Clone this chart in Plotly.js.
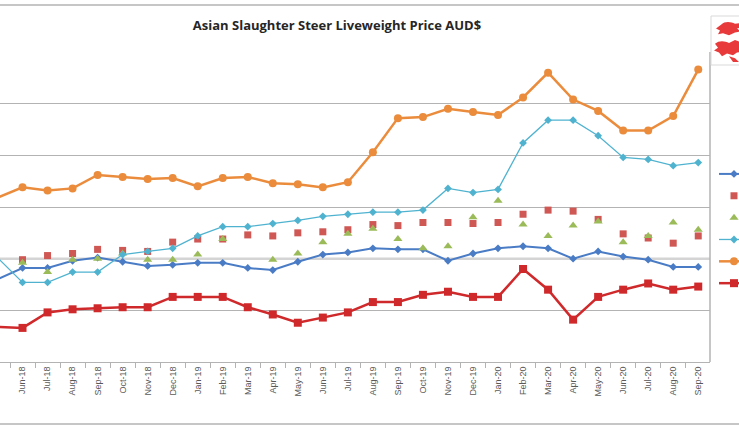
<!DOCTYPE html>
<html>
<head>
<meta charset="utf-8">
<script src="https://cdn.plot.ly/plotly-3.0.1.min.js"></script>
<style>
  html, body { margin: 0; padding: 0; background: #ffffff; }
  #chart { width: 739px; height: 430px; }
</style>
</head>
<body>
<div id="chart"></div>
<script>
// Monthly categories, May 2018 to September 2020
const months = ["May-18","Jun-18","Jul-18","Aug-18","Sep-18","Oct-18","Nov-18","Dec-18",
  "Jan-19","Feb-19","Mar-19","Apr-19","May-19","Jun-19","Jul-19","Aug-19","Sep-19","Oct-19","Nov-19","Dec-19",
  "Jan-20","Feb-20","Mar-20","Apr-20","May-20","Jun-20","Jul-20","Aug-20","Sep-20"];

// Prices, AUD$/kg liveweight, one array per market
const marketA = [2.80,2.91,2.91,2.98,3.01,2.97,2.93,2.94,2.96,2.96,2.91,2.89,2.97,3.04,3.06,3.10,3.09,3.09,2.98,3.05,3.10,3.12,3.10,3.00,3.07,3.02,2.99,2.92,2.92];
const marketB = [2.99,2.99,3.03,3.05,3.09,3.08,3.07,3.16,3.19,3.19,3.23,3.22,3.25,3.26,3.28,3.33,3.32,3.35,3.35,3.34,3.35,3.43,3.47,3.46,3.38,3.24,3.20,3.15,3.22];
const marketC = [null,2.96,2.87,2.99,3.00,3.05,2.99,2.99,3.04,3.19,null,2.99,3.05,3.16,3.24,3.29,3.19,3.10,3.12,3.40,3.56,3.33,3.22,3.32,3.36,3.16,3.22,3.35,3.28];
const marketD = [3.01,2.77,2.77,2.87,2.87,3.04,3.07,3.10,3.22,3.31,3.31,3.34,3.37,3.41,3.43,3.45,3.45,3.47,3.68,3.64,3.67,4.12,4.34,4.34,4.19,3.98,3.96,3.90,3.93];
const marketE = [3.59,3.69,3.66,3.68,3.81,3.79,3.77,3.78,3.70,3.78,3.79,3.73,3.72,3.69,3.74,4.03,4.36,4.37,4.45,4.42,4.39,4.56,4.80,4.54,4.43,4.24,4.24,4.38,4.83];
const marketF = [2.34,2.33,2.48,2.51,2.52,2.53,2.53,2.63,2.63,2.63,2.53,2.46,2.38,2.43,2.48,2.58,2.58,2.65,2.68,2.63,2.63,2.90,2.70,2.41,2.63,2.70,2.76,2.70,2.73];

// Legend keys only (the labels sit beyond the right edge of the frame)
const traces = [
  { name: "", x: months, y: marketA, type: "scatter", mode: "lines+markers",
    line: { color: "#4A7CC6", width: 2 }, marker: { symbol: "diamond", size: 6, color: "#4A7CC6" }, cliponaxis: false },
  { name: "", x: months, y: marketB, type: "scatter", mode: "markers",
    marker: { symbol: "square", size: 7, color: "#CF5754" }, cliponaxis: false },
  { name: "", x: months, y: marketC, type: "scatter", mode: "markers",
    marker: { symbol: "triangle-up", size: 8, color: "#9BBB59" }, cliponaxis: false },
  { name: "", x: months, y: marketD, type: "scatter", mode: "lines+markers",
    line: { color: "#4FB3D0", width: 1.3 }, marker: { symbol: "diamond", size: 6, color: "#4FB3D0" }, cliponaxis: false },
  { name: "", x: months, y: marketE, type: "scatter", mode: "lines+markers",
    line: { color: "#EB8C3C", width: 2.5 }, marker: { symbol: "circle", size: 8, color: "#EB8C3C" }, cliponaxis: false },
  { name: "", x: months, y: marketF, type: "scatter", mode: "lines+markers",
    line: { color: "#D0292B", width: 2.5 }, marker: { symbol: "square", size: 8, color: "#D0292B" }, cliponaxis: false }
];

// Small red emblem in the top-right corner
const emblem = 'data:image/svg+xml;utf8,' + encodeURIComponent(
  '<svg xmlns="http://www.w3.org/2000/svg" width="30" height="46" viewBox="0 0 30 46">' +
  '<g fill="#E83A3A">' +
  '<path d="M8 6 C12 2 18 3 22 5 L28 4 L30 8 L24 10 L28 13 L22 14 L16 17 L10 15 L5 16 L7 12 L3 10 Z"/>' +
  '<path d="M2 26 C6 22 12 23 16 25 L22 22 L27 24 L30 28 L26 30 L30 34 L24 35 L20 38 L14 36 L9 39 L6 35 L1 33 L5 30 Z"/>' +
  '<path d="M16 39 L22 41 L26 45 L20 45 Z"/>' +
  '</g></svg>');

const layout = {
  width: 739, height: 430,
  margin: { l: 0, r: 29, t: 52, b: 68, pad: 0, autoexpand: false },
  paper_bgcolor: "#ffffff", plot_bgcolor: "#ffffff",
  font: { family: "Liberation Sans, Arial, sans-serif", size: 9, color: "#595959" },
  title: {
    text: "Asian Slaughter Steer Liveweight Price AUD$",
    font: { family: "Open Sans, Liberation Sans, sans-serif", size: 13, color: "#262626", weight: "bold" },
    xref: "container", yref: "container", x: 337 / 739, y: 1 - 25 / 430, xanchor: "center", yanchor: "middle"
  },
  xaxis: {
    type: "category", range: [0.1, 28.47], autorange: false,
    showgrid: false, zeroline: false,
    showline: true, linecolor: "#b3b3b3", linewidth: 1,
    ticks: "outside", tickson: "boundaries", ticklen: 5, tickcolor: "#b3b3b3",
    tickangle: -90, tickfont: { size: 9, color: "#595959" }, automargin: false
  },
  yaxis: {
    range: [2, 5], autorange: false,
    tickmode: "array", tickvals: [2.5, 3.5, 4.0, 4.5, 5.0],
    showticklabels: false, ticks: "",
    showgrid: true, gridcolor: "#b3b3b3", gridwidth: 1,
    zeroline: false, showline: false, automargin: false
  },
  showlegend: true,
  legend: {
    xref: "container", yref: "container",
    x: 714 / 739, xanchor: "left", y: 1 - 158 / 430, yanchor: "top",
    orientation: "v", bgcolor: "rgba(0,0,0,0)", borderwidth: 0,
    font: { size: 14.5, color: "#595959" }, itemwidth: 30
  },
  images: [{
    source: emblem, xref: "paper", yref: "paper",
    x: 713 / 710, y: (362 - 19) / 310, sizex: 30 / 710, sizey: 44 / 310,
    xanchor: "left", yanchor: "top", sizing: "stretch", layer: "above"
  }],
  shapes: [
    // lighter, heavier rule at 3.0
    { type: "line", xref: "paper", yref: "y", x0: 0, x1: 1, y0: 3.0, y1: 3.0,
      line: { color: "#d4d4d4", width: 2.5 }, layer: "below" },
    // right edge of plot area
    { type: "line", xref: "paper", yref: "paper", x0: 1, x1: 1, y0: 0, y1: 1,
      line: { color: "#b3b3b3", width: 1.5 } },
    // outer chart frame, top and bottom
    { type: "line", xref: "paper", yref: "paper", x0: -0.01, x1: 1.05, y0: (362 - 5) / 310, y1: (362 - 5) / 310,
      line: { color: "#b3b3b3", width: 1.5 } },
    { type: "line", xref: "paper", yref: "paper", x0: -0.01, x1: 1.05, y0: (362 - 424) / 310, y1: (362 - 424) / 310,
      line: { color: "#b3b3b3", width: 1.5 } },
    // emblem frame
    { type: "rect", xref: "paper", yref: "paper", x0: 711 / 710, x1: 760 / 710, y0: (362 - 65) / 310, y1: (362 - 16) / 310,
      line: { color: "#d9d9d9", width: 1 }, fillcolor: "rgba(0,0,0,0)" }
  ]
};

Plotly.newPlot("chart", traces, layout, { displayModeBar: false, staticPlot: true });
</script>
</body>
</html>
